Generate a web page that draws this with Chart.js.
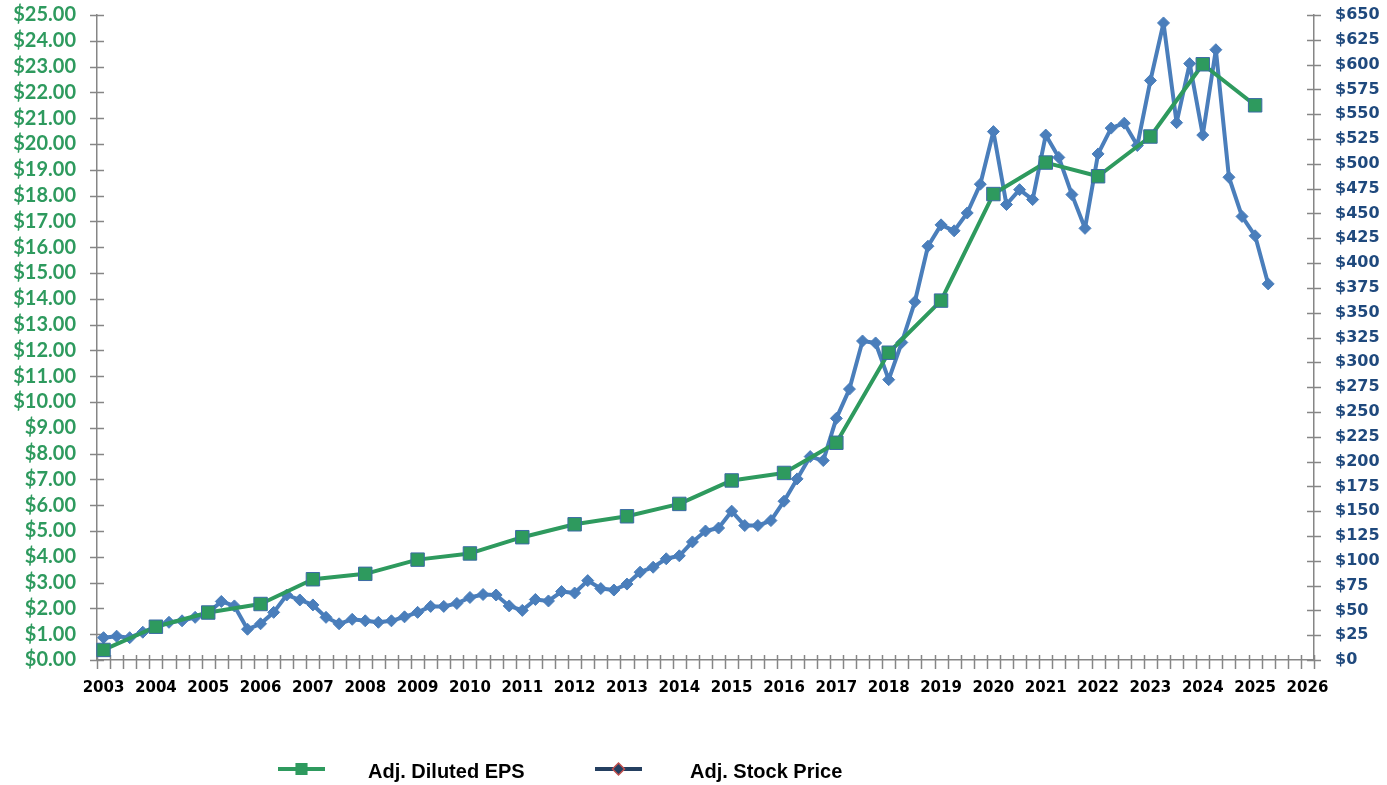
<!DOCTYPE html>
<html>
<head>
<meta charset="utf-8">
<script src="https://cdn.jsdelivr.net/npm/chart.js@4/dist/chart.umd.min.js"></script>
<style>
    html, body { margin: 0; padding: 0; background: #fff; }
    #wrap { width: 1387px; height: 785px; position: relative; }
</style>
</head>
<body>
<div id="wrap"><canvas id="epsChart"></canvas></div>
<script>
// x axis: one category per quarter, first quarter of 2003 up to first quarter of 2026
const years = [2003, 2004, 2005, 2006, 2007, 2008, 2009, 2010, 2011, 2012, 2013, 2014,
    2015, 2016, 2017, 2018, 2019, 2020, 2021, 2022, 2023, 2024, 2025, 2026]
const quarters = ["Q1", "Q2", "Q3", "Q4"]

// adjusted diluted EPS, one value per year (plotted at Q1)
const epsYears = [2003, 2004, 2005, 2006, 2007, 2008, 2009, 2010, 2011, 2012, 2013, 2014,
    2015, 2016, 2017, 2018, 2019, 2020, 2021, 2022, 2023, 2024, 2025]
const epsValues = [0.39, 1.29, 1.84, 2.17, 3.13, 3.34, 3.89, 4.13, 4.76, 5.26, 5.57, 6.05,
    6.96, 7.25, 8.42, 11.91, 13.93, 18.06, 19.28, 18.75, 20.29, 23.09, 21.50]

// adjusted stock price, quarterly from 2003 Q1
const stockPrices = [
    22.5, 24, 22.5, 28,         // 2003
    33.5, 38, 39.5, 43,         // 2004
    47.5, 59, 54.5, 31,         // 2005
    36.5, 48, 65.5, 60.5,       // 2006
    55.5, 43, 36.5, 41,         // 2007
    39.5, 38, 39.5, 43.5,       // 2008
    48, 54, 54, 57,             // 2009
    63, 66, 65.5, 54.5,         // 2010
    50, 61, 59.5, 69,           // 2011
    67.5, 80, 72, 70.5,         // 2012
    76.5, 88.5, 93.5, 102,      // 2013
    105, 119, 130, 133,         // 2014
    150, 135.5, 135.5, 140.5,   // 2015
    160, 182.5, 205, 201,       // 2016
    243.5, 273, 321.5, 319.5,   // 2017
    282.5, 320, 361, 417,       // 2018
    438.5, 432.5, 450.5, 479.5, // 2019
    532.5, 459, 474, 464,       // 2020
    529, 506.5, 469, 435,       // 2021
    510, 536, 541, 518.5,       // 2022
    584, 642, 541.5, 601,       // 2023
    529, 615, 486.5, 447,       // 2024
    427.5, 379                  // 2025
]

const quarterLabels = []
years.forEach((y) => {
    quarters.forEach((q) => {
        if (y < 2026 || q === "Q1") quarterLabels.push(y + " " + q)
    })
})

const epsSeries = quarterLabels.map(() => null)
epsYears.forEach((y, i) => {
    epsSeries[quarterLabels.indexOf(y + " Q1")] = epsValues[i]
})

const green = "#2E9A5E"
const blue = "#4A7EBB"
const axisGray = "#868686"

// Excel-style tick marks that cross the axis line
const crossTicks = {
    id: "crossTicks",
    beforeDatasetsDraw(chart) {
        const { ctx, chartArea, scales } = chart
        ctx.save()
        ctx.strokeStyle = axisGray
        ctx.lineWidth = 1.5

        const x = scales.x
        for (let i = 0; i <= quarterLabels.length; i++) {
            const px = Math.round(x.getPixelForValue(i - 0.5)) + 0.5
            ctx.beginPath()
            ctx.moveTo(px, chartArea.bottom - 5)
            ctx.lineTo(px, chartArea.bottom + 9)
            ctx.stroke()
        }

        ;[["yEps", chartArea.left], ["yPrice", chartArea.right]].forEach(([id, ax]) => {
            const s = scales[id]
            s.ticks.forEach((t) => {
                const py = Math.round(s.getPixelForValue(t.value)) + 0.5
                ctx.beginPath()
                ctx.moveTo(ax - 7, py)
                ctx.lineTo(ax + 7, py)
                ctx.stroke()
            })
        })
        ctx.restore()
    }
}

// legend drawn under the axis labels: a line with its marker, then the label
const lineLegend = {
    id: "lineLegend",
    afterDraw(chart) {
        const { ctx } = chart
        const y = 769
        const items = [
            { x: 278, textX: 368, text: "Adj. Diluted EPS", line: green, fill: green, border: green, shape: "rect" },
            { x: 595, textX: 690, text: "Adj. Stock Price", line: "#243F60", fill: "#243F60", border: "#C0504D", shape: "rectRot" }
        ]
        ctx.save()
        items.forEach((it) => {
            ctx.strokeStyle = it.line
            ctx.lineWidth = 4
            ctx.beginPath()
            ctx.moveTo(it.x, y)
            ctx.lineTo(it.x + 47, y)
            ctx.stroke()

            ctx.fillStyle = it.fill
            ctx.strokeStyle = it.border
            ctx.lineWidth = 1.5
            Chart.helpers.drawPoint(ctx, { pointStyle: it.shape, radius: it.shape === "rect" ? 7.5 : 6, rotation: 0, borderWidth: 1.5 }, it.x + 23.5, y)

            ctx.fillStyle = "#000"
            ctx.font = "bold 20px 'Liberation Sans', Arial, sans-serif"
            ctx.textBaseline = "middle"
            ctx.fillText(it.text, it.textX, y + 3)
        })
        ctx.restore()
    }
}

// vertical axes: fixed width, and no extra room reserved for the half-labels at the ends
function fitSide(width) {
    return (scale) => {
        scale.width = width
        scale.paddingTop = 0
        scale.paddingBottom = 0
    }
}

new Chart(document.getElementById("epsChart"), {
    type: "line",
    data: {
        labels: quarterLabels,
        datasets: [{
            label: "Adj. Diluted EPS",
            data: epsSeries,
            yAxisID: "yEps",
            spanGaps: true,
            borderColor: green,
            borderWidth: 4,
            borderJoinStyle: "round",
            pointStyle: "rect",
            pointRadius: 9.5,
            pointBackgroundColor: green,
            pointBorderColor: "#3B6BA5",
            pointBorderWidth: 1,
            tension: 0
        }, {
            label: "Adj. Stock Price",
            data: stockPrices,
            yAxisID: "yPrice",
            borderColor: blue,
            borderWidth: 4,
            borderJoinStyle: "round",
            pointStyle: "rectRot",
            pointRadius: 6,
            pointBackgroundColor: blue,
            pointBorderColor: blue,
            pointBorderWidth: 1,
            tension: 0
        }]
    },
    options: {
        responsive: true,
        maintainAspectRatio: false,
        animation: false,
        layout: { padding: { top: 15, left: 0, right: 0, bottom: 0 } },
        plugins: {
            legend: { display: false },
            tooltip: { enabled: false }
        },
        scales: {
            x: {
                type: "category",
                offset: true,
                grid: { display: false },
                border: { display: true, color: axisGray, width: 1.5 },
                ticks: {
                    autoSkip: false,
                    maxRotation: 0,
                    minRotation: 0,
                    padding: 11,
                    color: "#000",
                    font: { family: "'DejaVu Sans'", size: 15, weight: "bold" },
                    callback: (value, index) => index % 4 === 0 ? quarterLabels[index].slice(0, 4) : ""
                },
                afterFit: (scale) => { scale.height = 125 }
            },
            yEps: {
                position: "left",
                min: 0,
                max: 25,
                grid: { display: false },
                border: { display: true, color: axisGray, width: 1.5 },
                ticks: {
                    stepSize: 1,
                    autoSkip: false,
                    padding: 13,
                    color: green,
                    font: { family: "Lato", size: 20, weight: "bold" },
                    callback: (v) => "$" + v.toFixed(2)
                },
                afterFit: fitSide(97)
            },
            yPrice: {
                position: "right",
                min: 0,
                max: 650,
                grid: { display: false },
                border: { display: true, color: axisGray, width: 1.5 },
                ticks: {
                    stepSize: 25,
                    autoSkip: false,
                    padding: 13,
                    color: "#1F497D",
                    font: { family: "'DejaVu Sans'", size: 16, weight: "bold" },
                    callback: (v) => "$" + v
                },
                afterFit: fitSide(73)
            }
        }
    },
    plugins: [crossTicks, lineLegend]
})
</script>
</body>
</html>
